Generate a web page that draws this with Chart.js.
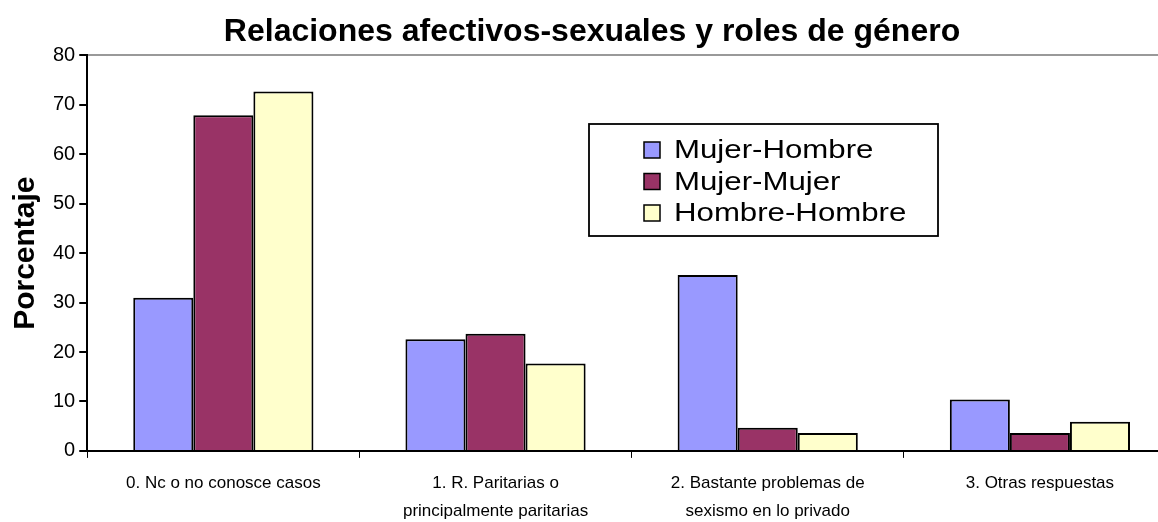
<!DOCTYPE html>
<html>
<head>
<meta charset="utf-8">
<script src="https://cdn.jsdelivr.net/npm/chart.js@4"></script>
<style>
  html, body { margin: 0; padding: 0; background: #fff; overflow: hidden; }
  #wrap { width: 1176px; height: 542px; }
</style>
</head>
<body>
<div id="wrap"><canvas id="myChart"></canvas></div>
<script>
var categories = [
    '0. Nc o no conosce casos',
    ['1. R. Paritarias o', 'principalmente paritarias'],
    ['2. Bastante problemas de', 'sexismo en lo privado'],
    '3. Otras respuestas'
];
var seriesNames = ['Mujer-Hombre', 'Mujer-Mujer', 'Hombre-Hombre'];
var mujerHombre = [31.0, 22.6, 35.6, 10.4];
var mujerMujer = [67.9, 23.7, 4.7, 3.6];
var hombreHombre = [72.7, 17.7, 3.6, 5.9];
var yTicks = [0, 10, 20, 30, 40, 50, 60, 70, 80];

Chart.defaults.font.family = '"Liberation Sans", Arial, sans-serif';
Chart.defaults.color = '#000';

// legend box drawn inside the plot, like the original
var boxLegend = {
    id: 'boxLegend',
    afterDatasetsDraw: function (chart, args, opts) {
        var c = chart.ctx;
        c.save();
        c.fillStyle = '#fff';
        c.fillRect(opts.x, opts.y, opts.w, opts.h);
        c.strokeStyle = '#000';
        c.lineWidth = 1.8;
        c.strokeRect(opts.x, opts.y, opts.w, opts.h);
        c.font = opts.fontSize + 'px "Liberation Sans", Arial, sans-serif';
        c.textBaseline = 'middle';
        chart.data.datasets.forEach(function (ds, i) {
            var cy = opts.y + opts.firstRow + i * opts.rowGap;
            c.fillStyle = ds.backgroundColor;
            c.fillRect(opts.x + 55, cy - 8, 16, 16);
            c.lineWidth = 1.5;
            c.strokeRect(opts.x + 55, cy - 8, 16, 16);
            c.fillStyle = '#000';
            c.save();
            c.translate(opts.x + 85, cy + 1);
            c.scale(opts.stretch, 1);
            c.fillText(ds.label, 0, 0);
            c.restore();
        });
        c.restore();
    }
};

var ctx = document.getElementById('myChart').getContext('2d');
var myChart = new Chart(ctx, {
    type: 'bar',
    data: {
        labels: categories,
        datasets: [{
            label: seriesNames[0],
            data: mujerHombre,
            backgroundColor: '#9999FF'
        }, {
            label: seriesNames[1],
            data: mujerMujer,
            backgroundColor: '#993366'
        }, {
            label: seriesNames[2],
            data: hombreHombre,
            backgroundColor: '#FFFFCC'
        }]
    },
    options: {
        responsive: true,
        maintainAspectRatio: false,
        animation: false,
        datasets: {
            bar: {
                borderColor: '#000',
                borderWidth: 2,
                barPercentage: 1,
                categoryPercentage: 0.662
            }
        },
        layout: {
            padding: { top: 0, left: 8, right: 0, bottom: 6 }
        },
        plugins: {
            legend: { display: false },
            tooltip: { enabled: false },
            title: {
                display: true,
                text: 'Relaciones afectivos-sexuales y roles de género',
                font: { size: 32, weight: 'bold' },
                padding: { top: 13, bottom: 4 }
            },
            boxLegend: {
                x: 589, y: 124, w: 349, h: 112,
                firstRow: 26, rowGap: 31.5, fontSize: 26, stretch: 1.2
            }
        },
        scales: {
            x: {
                border: { color: '#000', width: 2 },
                grid: {
                    color: 'transparent',
                    tickColor: '#000',
                    tickLength: 7,
                    offset: true
                },
                ticks: {
                    font: { size: 17, lineHeight: 1.65 },
                    maxRotation: 0,
                    autoSkip: false,
                    padding: 11
                }
            },
            y: {
                min: 0,
                max: 80,
                afterBuildTicks: function (axis) {
                    axis.ticks = yTicks.map(function (v) { return { value: v }; });
                },
                border: { color: '#000', width: 2 },
                grid: {
                    color: function (c) { return c.tick && c.tick.value === 80 ? '#999' : 'transparent'; },
                    lineWidth: 2,
                    tickColor: '#000',
                    tickLength: 8
                },
                ticks: {
                    font: { size: 20 },
                    padding: 4
                },
                title: {
                    display: true,
                    text: 'Porcentaje',
                    font: { size: 30, weight: 'bold' },
                    padding: { top: 0, bottom: 5 }
                }
            }
        }
    },
    plugins: [boxLegend]
});
</script>
</body>
</html>
